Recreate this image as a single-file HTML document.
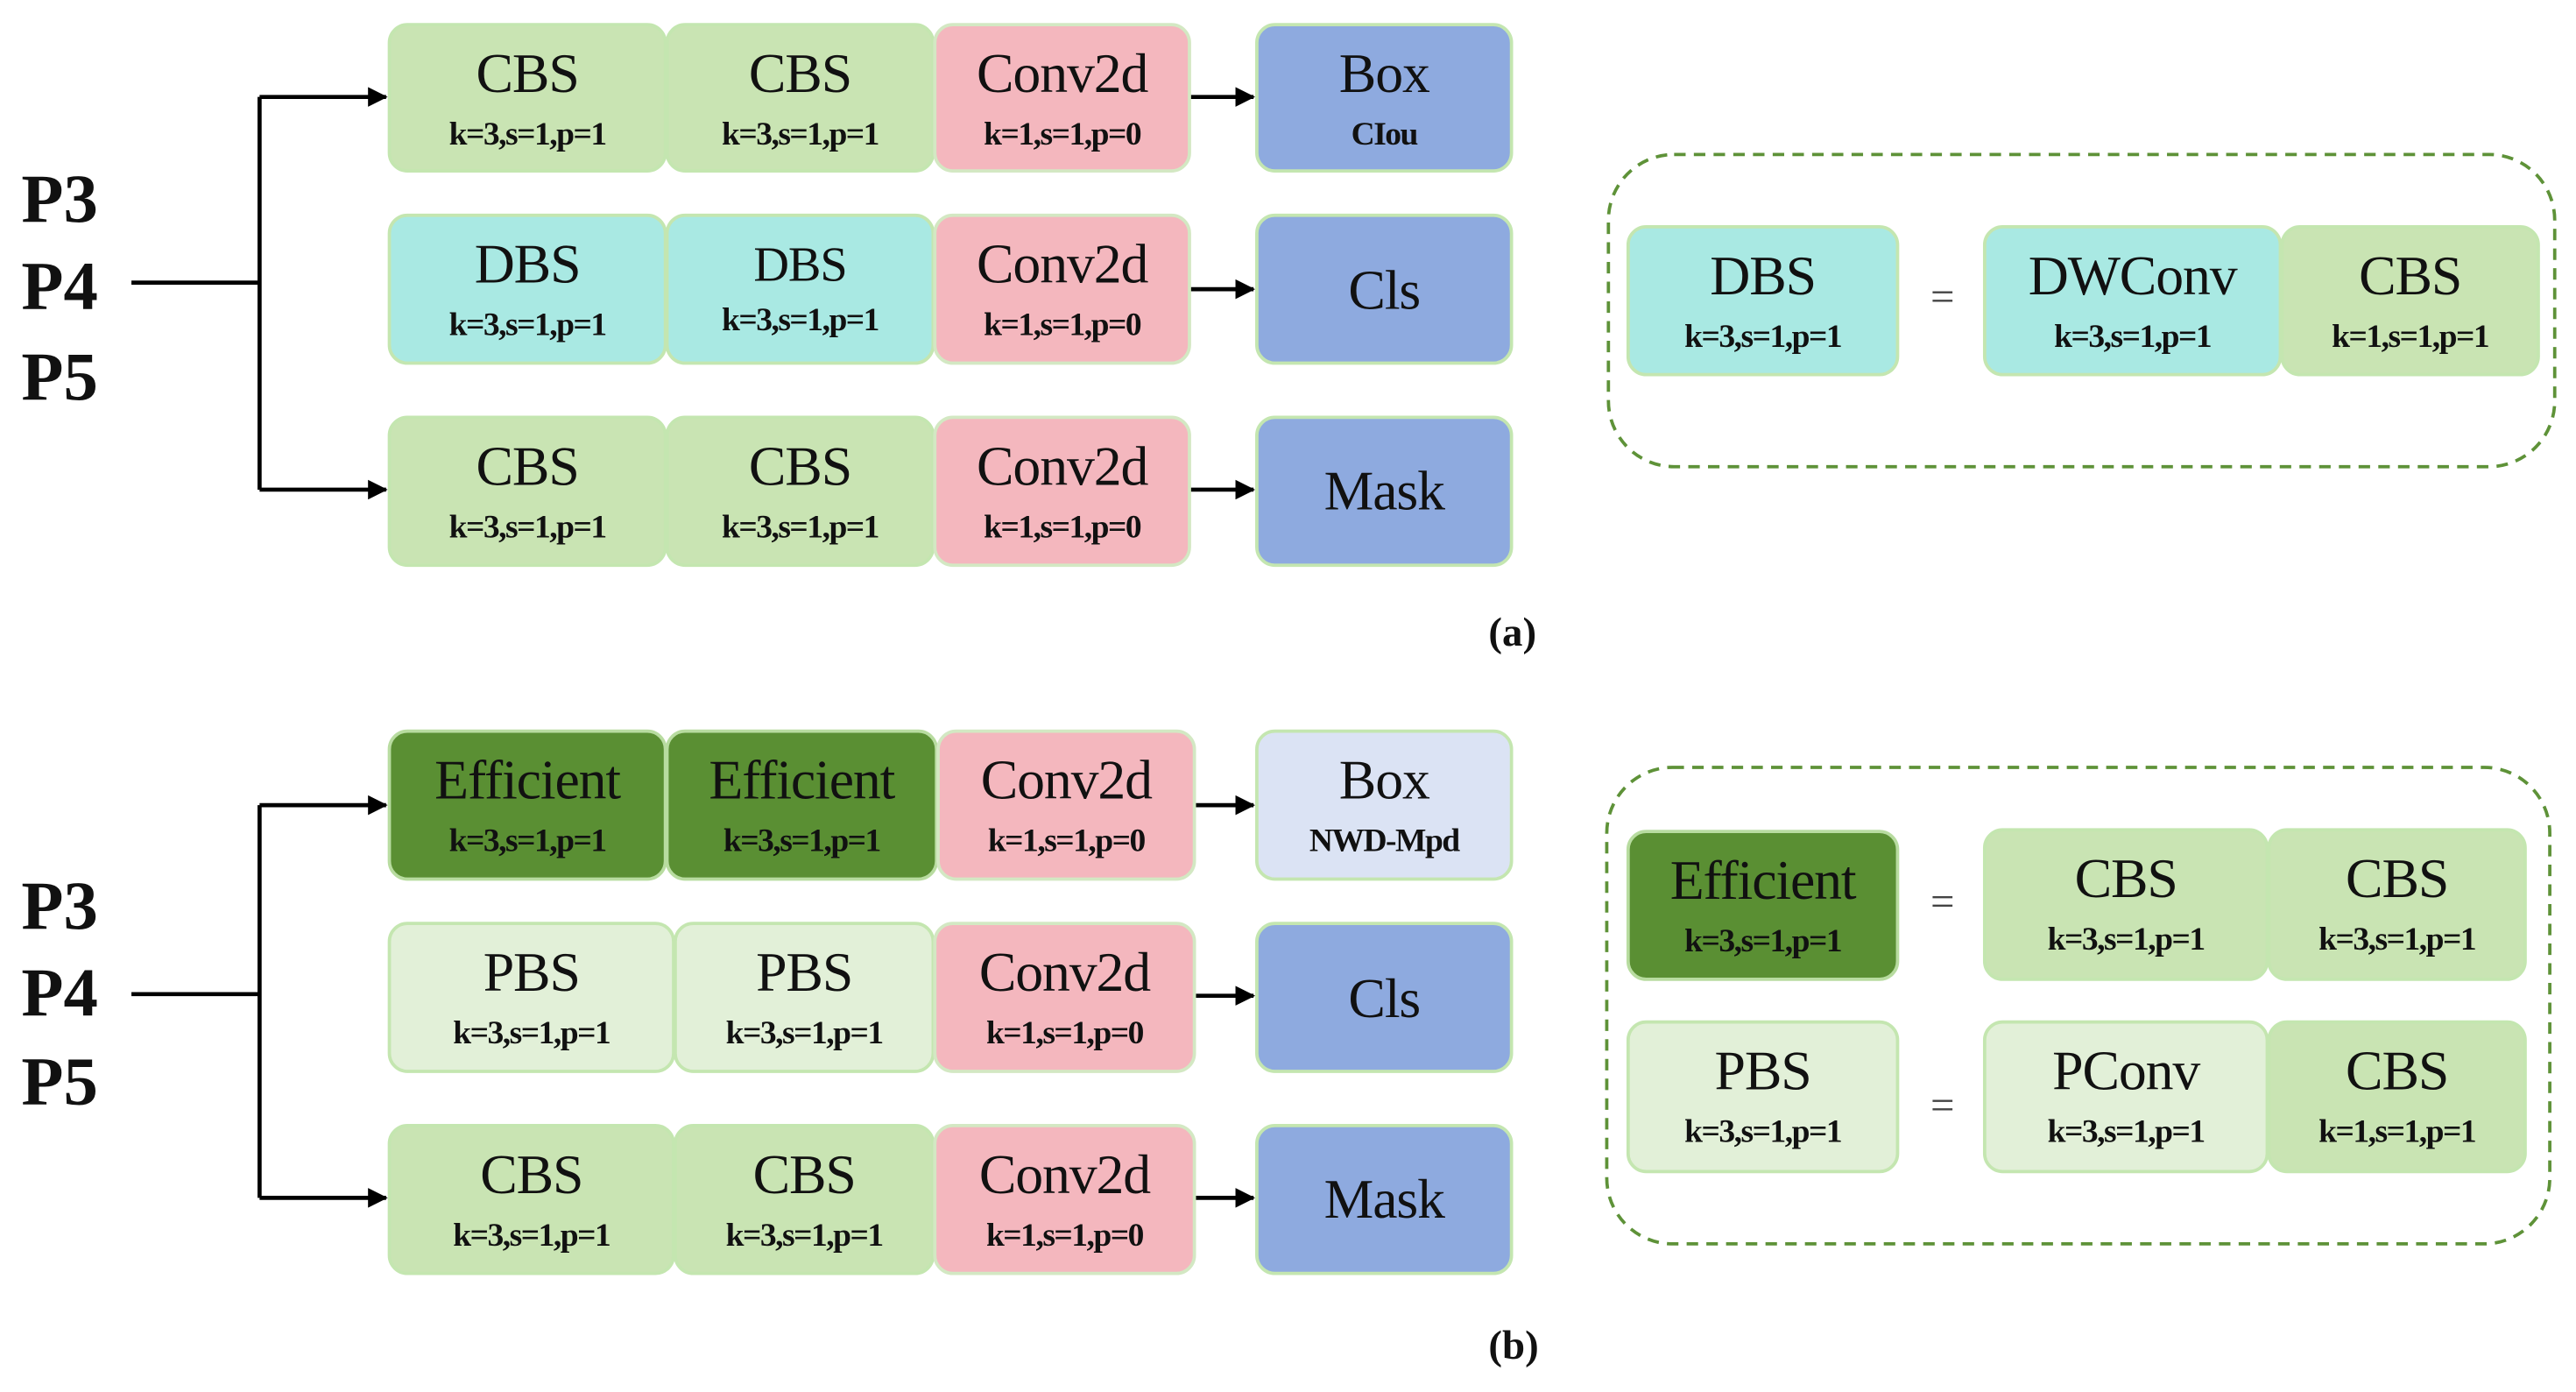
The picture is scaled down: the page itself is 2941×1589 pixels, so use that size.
<!DOCTYPE html>
<html><head><meta charset="utf-8"><style>
html,body{margin:0;padding:0;background:#fff;width:2941px;height:1589px;overflow:hidden}
#c{position:absolute;left:0;top:0;width:1568px;height:847px;transform:scale(1.8757);transform-origin:0 0;font-family:"Liberation Serif",serif;color:#111}
.b{position:absolute;border-radius:12px;box-sizing:border-box;border:2px solid #c4e6b0;text-align:center}
.b .m{position:absolute;left:0;right:0;top:11px;font-size:34px;line-height:38px;letter-spacing:-0.6px}
.b .s{position:absolute;left:0;right:0;top:55px;font-size:20px;line-height:22px;font-weight:bold;letter-spacing:-0.8px}
.g{background:#c9e4b3}.c{background:#a9e9e3}.p{background:#f4b7be;border-color:#d3e8c3}.u{background:#8eaadf;border-color:#c4e6b0}
.d{background:#5a8f33;border-color:#b8dca0}.l{background:#e2f0d8}.v{background:#dbe3f4}
.P{position:absolute;left:13px;font-weight:bold;font-size:42px;line-height:44px}
.eq{position:absolute;font-size:26px;color:#444}
.lab{position:absolute;font-weight:bold;font-size:25px}
</style></head><body><div id="c">
<svg width="1568" height="847" style="position:absolute;left:0;top:0">
<defs><marker id="a" markerWidth="12" markerHeight="12" refX="11" refY="6" orient="auto" markerUnits="userSpaceOnUse"><path d="M0,0 L12,6 L0,12 z" fill="#000"/></marker></defs>
<g stroke="#000" stroke-width="2.5" fill="none">
<path d="M80,172 H158"/><path d="M158,59 V298"/>
<path d="M158,59 H235" marker-end="url(#a)"/><path d="M158,298 H235" marker-end="url(#a)"/>
<path d="M724,59 H763" marker-end="url(#a)"/><path d="M724,176 H763" marker-end="url(#a)"/><path d="M724,298 H763" marker-end="url(#a)"/>
<path d="M80,605 H158"/><path d="M158,490 V729"/>
<path d="M158,490 H235" marker-end="url(#a)"/><path d="M158,729 H235" marker-end="url(#a)"/>
<path d="M727,490 H763" marker-end="url(#a)"/><path d="M727,606 H763" marker-end="url(#a)"/><path d="M727,729 H763" marker-end="url(#a)"/>
</g>
<rect x="979" y="94" width="576" height="190" rx="40" fill="none" stroke="#5e9238" stroke-width="2" stroke-dasharray="7,5"/>
<rect x="978" y="467" width="574" height="290" rx="40" fill="none" stroke="#5e9238" stroke-width="2" stroke-dasharray="7,5"/>
</svg>
<div class="P" style="top:100px">P3</div><div class="P" style="top:153px">P4</div><div class="P" style="top:208px">P5</div>
<div class="P" style="top:530px">P3</div><div class="P" style="top:583px">P4</div><div class="P" style="top:637px">P5</div>

<div class="b g" style="left:236px;top:14px;width:170px;height:91px"><div class="m">CBS</div><div class="s">k=3,s=1,p=1</div></div>
<div class="b g" style="left:405px;top:14px;width:164px;height:91px"><div class="m">CBS</div><div class="s">k=3,s=1,p=1</div></div>
<div class="b p" style="left:568px;top:14px;width:157px;height:91px"><div class="m">Conv2d</div><div class="s">k=1,s=1,p=0</div></div>
<div class="b u" style="left:764px;top:14px;width:157px;height:91px"><div class="m">Box</div><div class="s">CIou</div></div>

<div class="b c" style="left:236px;top:130px;width:170px;height:92px"><div class="m">DBS</div><div class="s">k=3,s=1,p=1</div></div>
<div class="b c" style="left:405px;top:130px;width:164px;height:92px"><div class="m" style="font-size:30px">DBS</div><div class="s" style="top:52px">k=3,s=1,p=1</div></div>
<div class="b p" style="left:568px;top:130px;width:157px;height:92px"><div class="m">Conv2d</div><div class="s">k=1,s=1,p=0</div></div>
<div class="b u" style="left:764px;top:130px;width:157px;height:92px"><div class="m" style="top:27px">Cls</div></div>

<div class="b g" style="left:236px;top:253px;width:170px;height:92px"><div class="m">CBS</div><div class="s">k=3,s=1,p=1</div></div>
<div class="b g" style="left:405px;top:253px;width:164px;height:92px"><div class="m">CBS</div><div class="s">k=3,s=1,p=1</div></div>
<div class="b p" style="left:568px;top:253px;width:157px;height:92px"><div class="m">Conv2d</div><div class="s">k=1,s=1,p=0</div></div>
<div class="b u" style="left:764px;top:253px;width:157px;height:92px"><div class="m" style="top:26px">Mask</div></div>

<div class="b c" style="left:990px;top:137px;width:166px;height:92px"><div class="m">DBS</div><div class="s">k=3,s=1,p=1</div></div>
<div class="eq" style="left:1175px;top:166px">=</div>
<div class="b c" style="left:1207px;top:137px;width:182px;height:92px"><div class="m">DWConv</div><div class="s">k=3,s=1,p=1</div></div>
<div class="b g" style="left:1388px;top:137px;width:158px;height:92px"><div class="m">CBS</div><div class="s">k=1,s=1,p=1</div></div>

<div class="lab" style="left:906px;top:372px">(a)</div>

<div class="b d" style="left:236px;top:444px;width:170px;height:92px"><div class="m">Efficient</div><div class="s">k=3,s=1,p=1</div></div>
<div class="b d" style="left:405px;top:444px;width:166px;height:92px"><div class="m">Efficient</div><div class="s">k=3,s=1,p=1</div></div>
<div class="b p" style="left:570px;top:444px;width:158px;height:92px"><div class="m">Conv2d</div><div class="s">k=1,s=1,p=0</div></div>
<div class="b v" style="left:764px;top:444px;width:157px;height:92px"><div class="m">Box</div><div class="s">NWD-Mpd</div></div>

<div class="b l" style="left:236px;top:561px;width:175px;height:92px"><div class="m">PBS</div><div class="s">k=3,s=1,p=1</div></div>
<div class="b l" style="left:410px;top:561px;width:159px;height:92px"><div class="m">PBS</div><div class="s">k=3,s=1,p=1</div></div>
<div class="b p" style="left:568px;top:561px;width:160px;height:92px"><div class="m">Conv2d</div><div class="s">k=1,s=1,p=0</div></div>
<div class="b u" style="left:764px;top:561px;width:157px;height:92px"><div class="m" style="top:27px">Cls</div></div>

<div class="b g" style="left:236px;top:684px;width:175px;height:92px"><div class="m">CBS</div><div class="s">k=3,s=1,p=1</div></div>
<div class="b g" style="left:410px;top:684px;width:159px;height:92px"><div class="m">CBS</div><div class="s">k=3,s=1,p=1</div></div>
<div class="b p" style="left:568px;top:684px;width:160px;height:92px"><div class="m">Conv2d</div><div class="s">k=1,s=1,p=0</div></div>
<div class="b u" style="left:764px;top:684px;width:157px;height:92px"><div class="m" style="top:26px">Mask</div></div>

<div class="b d" style="left:990px;top:505px;width:166px;height:92px"><div class="m">Efficient</div><div class="s">k=3,s=1,p=1</div></div>
<div class="eq" style="left:1175px;top:534px">=</div>
<div class="b g" style="left:1207px;top:504px;width:174px;height:93px"><div class="m">CBS</div><div class="s">k=3,s=1,p=1</div></div>
<div class="b g" style="left:1380px;top:504px;width:158px;height:93px"><div class="m">CBS</div><div class="s">k=3,s=1,p=1</div></div>

<div class="b l" style="left:990px;top:621px;width:166px;height:93px"><div class="m">PBS</div><div class="s">k=3,s=1,p=1</div></div>
<div class="eq" style="left:1175px;top:658px">=</div>
<div class="b l" style="left:1207px;top:621px;width:174px;height:93px"><div class="m">PConv</div><div class="s">k=3,s=1,p=1</div></div>
<div class="b g" style="left:1380px;top:621px;width:158px;height:93px"><div class="m">CBS</div><div class="s">k=1,s=1,p=1</div></div>

<div class="lab" style="left:906px;top:806px">(b)</div>
</div></body></html>
